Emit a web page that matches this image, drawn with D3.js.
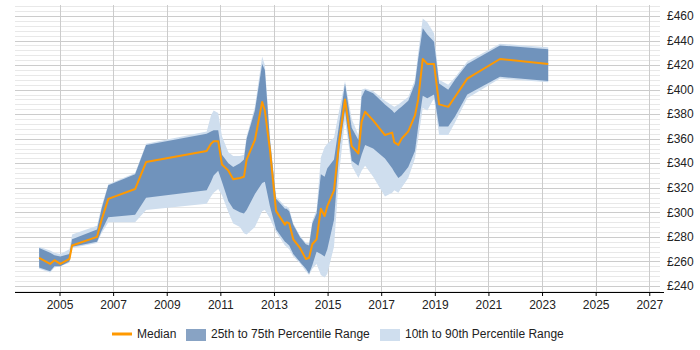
<!DOCTYPE html>
<html>
<head>
<meta charset="utf-8">
<script src="https://cdn.jsdelivr.net/npm/d3@7"></script>
<style>
  html, body { margin: 0; padding: 0; background: #fff; }
  text { font-family: "Liberation Sans", Arial, sans-serif; font-size: 12px; fill: #222; }
</style>
</head>
<body>
<div id="chart"></div>
<script>
// Дані (роки як дробові значення)
const dates = [2004.24, 2004.65, 2004.81, 2005.03, 2005.37, 2005.47, 2006.40, 2006.57, 2006.82, 2007.82,
  2008.23, 2010.49, 2010.65, 2010.75, 2010.92, 2011.06, 2011.30, 2011.48, 2011.73, 2011.88,
  2011.98, 2012.29, 2012.56, 2012.66, 2012.85, 2013.08, 2013.41, 2013.47, 2013.57, 2013.72,
  2013.97, 2014.19, 2014.31, 2014.43, 2014.59, 2014.75, 2014.89, 2014.99, 2015.24, 2015.44,
  2015.65, 2015.90, 2016.15, 2016.27, 2016.40, 2016.70, 2017.14, 2017.41, 2017.49, 2017.64,
  2017.76, 2018.01, 2018.26, 2018.38, 2018.55, 2018.72, 2018.97, 2019.16, 2019.50, 2019.75,
  2020.21, 2021.43, 2023.23];

const median = [263, 258, 261, 258, 262, 273, 280, 294, 311, 319,
  341, 350, 356, 358, 358, 339, 334, 327, 328, 329,
  343, 359, 390, 383, 351, 301, 290, 292, 291, 278,
  271, 262, 263, 274, 278, 303, 297, 305, 318, 359,
  392, 354, 348, 374, 382, 375, 363, 365, 357, 355,
  360, 366, 379, 392, 425, 421, 421, 388, 386, 394,
  409, 425, 421];

const q25 = [255, 252, 256, 256, 260, 272, 276, 285, 296, 298,
  312, 318, 325, 330, 334, 325, 309, 303, 300, 299,
  302, 315, 324, 325, 305, 286, 276, 275, 273, 266,
  259.5, 254, 250, 257, 268, 266, 264, 270, 294, 351,
  383, 342, 338, 347, 355, 352, 344, 336, 333, 328,
  330, 337, 350, 370, 395, 393, 396, 370, 370, 378,
  396, 410.5, 407];

const q75 = [271, 267, 265, 264, 266, 278, 286, 303, 322, 331,
  355, 364, 366, 367, 367, 347, 340, 337, 340, 343,
  360, 383, 421, 416, 359, 311, 303, 303, 301, 290,
  280, 274, 273, 291, 299, 331, 329, 336, 343, 373,
  405, 369, 359, 394, 400, 397, 388, 383, 381, 384,
  386, 391, 405, 425, 450, 445, 439, 405, 400, 408,
  421, 436, 433];

const p10 = [254, 251, 255, 256, 259, 271, 275, 283, 292, 292,
  302, 307, 313, 316, 319, 314, 300, 291, 288, 283,
  282, 288, 301, 302, 295, 284, 273, 272, 270, 264,
  258.5, 252, 249, 254, 258, 249, 247, 250, 272, 334,
  375, 338, 328, 334, 338, 329, 313, 316, 318, 316,
  320, 328, 344, 360, 385, 383, 393, 363, 363, 373,
  393, 409, 406];

const p90 = [272, 269, 267, 266, 270, 282, 289, 305, 323, 332,
  356, 366, 379, 383, 381, 362, 349, 346, 346, 347,
  362, 386, 427, 420, 362, 313, 305, 305, 303, 291,
  281, 275, 275, 293, 302, 345, 353, 356, 361, 384,
  407, 376, 363, 400, 401, 399, 391, 387, 386, 388,
  390, 394, 408, 430, 458, 455, 446, 408, 404, 410,
  423, 437.5, 434.5];

const yearTicks = [2005, 2007, 2009, 2011, 2013, 2015, 2017, 2019, 2021, 2023, 2025, 2027];
const valueTicks = [240, 260, 280, 300, 320, 340, 360, 380, 400, 420, 440, 460];

// Розміри
const WIDTH = 700;
const HEIGHT = 350;
const PLOT_LEFT = 15;
const PLOT_RIGHT = 660;
const PLOT_TOP = 5;
const PLOT_BOTTOM = 292;

const DARK = 'rgba(17, 72, 138, 0.5)';
const LIGHT = '#cfdeee';
const ORANGE = '#ff9900';

const data = dates.map((d, i) => ({
  t: d, med: median[i], q25: q25[i], q75: q75[i], p10: p10[i], p90: p90[i]
}));

const svg = d3.select('#chart')
  .append('svg')
  .attr('width', WIDTH)
  .attr('height', HEIGHT);

const x = d3.scaleLinear().domain([2003.34, 2027.4]).range([PLOT_LEFT, PLOT_RIGHT]);
const y = d3.scaleLinear().domain([235.1, 469]).range([PLOT_BOTTOM, PLOT_TOP]);

// Сітка: дрібні лінії кожні £4, основні кожні £20
const minor = d3.range(236, 469, 4).filter(v => v % 20 !== 0);
svg.append('g')
  .selectAll('line')
  .data(minor)
  .join('line')
  .attr('x1', PLOT_LEFT).attr('x2', PLOT_RIGHT)
  .attr('y1', d => Math.round(y(d)) + 0.5).attr('y2', d => Math.round(y(d)) + 0.5)
  .attr('stroke', '#e8e8e8');

svg.append('g')
  .selectAll('line')
  .data(valueTicks)
  .join('line')
  .attr('x1', PLOT_LEFT).attr('x2', PLOT_RIGHT)
  .attr('y1', d => Math.round(y(d)) + 0.5).attr('y2', d => Math.round(y(d)) + 0.5)
  .attr('stroke', '#cccccc');

svg.append('g')
  .selectAll('line')
  .data(yearTicks)
  .join('line')
  .attr('x1', d => Math.round(x(d)) + 0.5).attr('x2', d => Math.round(x(d)) + 0.5)
  .attr('y1', PLOT_TOP).attr('y2', PLOT_BOTTOM)
  .attr('stroke', '#cccccc');

// Смуги процентилів
const band = (lo, hi) => d3.area()
  .x(d => x(d.t))
  .y0(d => y(d[lo]))
  .y1(d => y(d[hi]));

svg.append('path')
  .datum(data)
  .attr('fill', LIGHT)
  .attr('d', band('p10', 'p90'));

svg.append('path')
  .datum(data)
  .attr('fill', DARK)
  .attr('d', band('q25', 'q75'));

// Медіана
svg.append('path')
  .datum(data)
  .attr('fill', 'none')
  .attr('stroke', ORANGE)
  .attr('stroke-width', 2)
  .attr('stroke-linejoin', 'round')
  .attr('d', d3.line().x(d => x(d.t)).y(d => y(d.med)));

// Вісь X
const xAxis = d3.axisBottom(x)
  .tickValues(yearTicks)
  .tickFormat(d3.format('d'))
  .tickSize(4)
  .tickSizeOuter(0);

const gx = svg.append('g')
  .attr('transform', `translate(0,${PLOT_BOTTOM})`)
  .call(xAxis);
gx.select('.domain').attr('d', `M${PLOT_LEFT},0.5H664`).attr('stroke', '#000');
gx.selectAll('.tick line').attr('stroke', '#000');
gx.selectAll('.tick text')
  .attr('y', 8)
  .style('font-family', '"Liberation Sans", Arial, sans-serif')
  .style('font-size', '12px')
  .attr('fill', '#222');

// Вісь Y (підписи праворуч)
svg.append('g')
  .selectAll('text')
  .data(valueTicks)
  .join('text')
  .attr('x', 667)
  .attr('y', d => y(d))
  .attr('dy', '0.35em')
  .text(d => '£' + d);

// Легенда
const legend = svg.append('g');
legend.append('line')
  .attr('x1', 112).attr('x2', 132)
  .attr('y1', 334).attr('y2', 334)
  .attr('stroke', ORANGE)
  .attr('stroke-width', 3);
legend.append('text').attr('x', 137).attr('y', 338).text('Median');

legend.append('rect')
  .attr('x', 186).attr('y', 329).attr('width', 20).attr('height', 12)
  .attr('fill', DARK);
legend.append('text').attr('x', 211).attr('y', 338).text('25th to 75th Percentile Range');

legend.append('rect')
  .attr('x', 380).attr('y', 329).attr('width', 20).attr('height', 12)
  .attr('fill', LIGHT);
legend.append('text').attr('x', 405).attr('y', 338).text('10th to 90th Percentile Range');
</script>
</body>
</html>
